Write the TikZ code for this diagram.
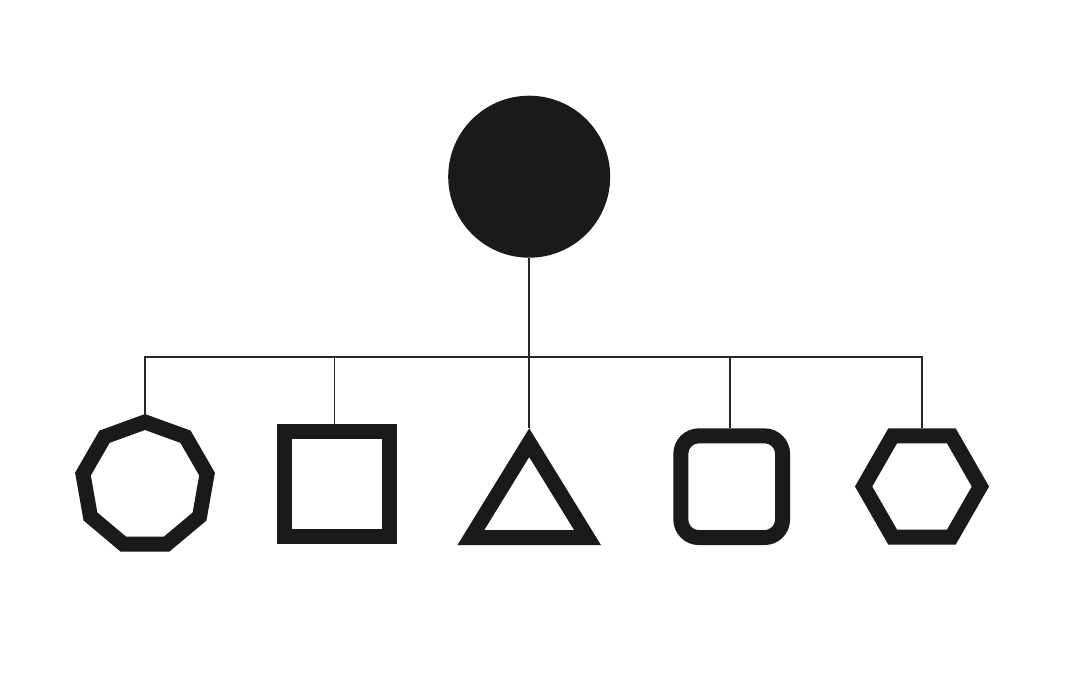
\documentclass[tikz,border=0pt]{standalone}
\definecolor{ink}{HTML}{1A1A1A}
\definecolor{wire}{HTML}{262626}
\begin{document}
\begin{tikzpicture}[x=1pt,y=-1pt,
  link/.style={draw=wire,line width=1.8pt},
  outline/.style={draw=ink,line width=15pt,miter limit=20},
  boxshape/.style={rectangle,draw=ink,line width=15pt,inner sep=0pt}]
\useasboundingbox[fill=white] (0,0) rectangle (1080,675);
% root
\node[circle,fill=ink,minimum size=162pt,inner sep=0pt] (root) at (529.2,176.7) {};
% nonagon
\draw[outline] (145,422) -- (185.50,436.74) -- (207.04,474.06) -- (199.56,516.5)
  -- (166.55,544.20) -- (123.45,544.20) -- (90.44,516.5) -- (82.96,474.06) -- (104.50,436.74) -- cycle;
\coordinate (nonTop) at (145,414);
% square
\node[boxshape,minimum width=105pt,minimum height=105pt] (sq) at (336.7,484.3) {};
% triangle
\draw[outline] (529.2,442.7) -- (587.5,537.5) -- (470.9,537.5) -- cycle;
\coordinate (triTop) at (529.2,428.3);
% rounded square
\node[boxshape,rounded corners=18pt,minimum width=101.7pt,minimum height=101.7pt] (rsq) at (731.7,486.7) {};
% hexagon
\draw[outline] (863.6,486.5) -- (892.7,435.8) -- (951.3,435.8) -- (980.4,486.5)
  -- (951.3,537.2) -- (892.7,537.2) -- cycle;
\coordinate (hexTop) at (921.7,428.3);
% connectors
\coordinate (bus) at (0,357);
\draw[link] (root.south) -- (triTop);
\draw[link] (nonTop) -- (nonTop |- bus) -- (hexTop |- bus) -- (hexTop);
\draw[link] ([xshift=-2.2pt]sq.north) -- ([xshift=-2.2pt]sq.north |- bus);
\draw[link] ([xshift=-1.7pt]rsq.north) -- ([xshift=-1.7pt]rsq.north |- bus);
\end{tikzpicture}
\end{document}
